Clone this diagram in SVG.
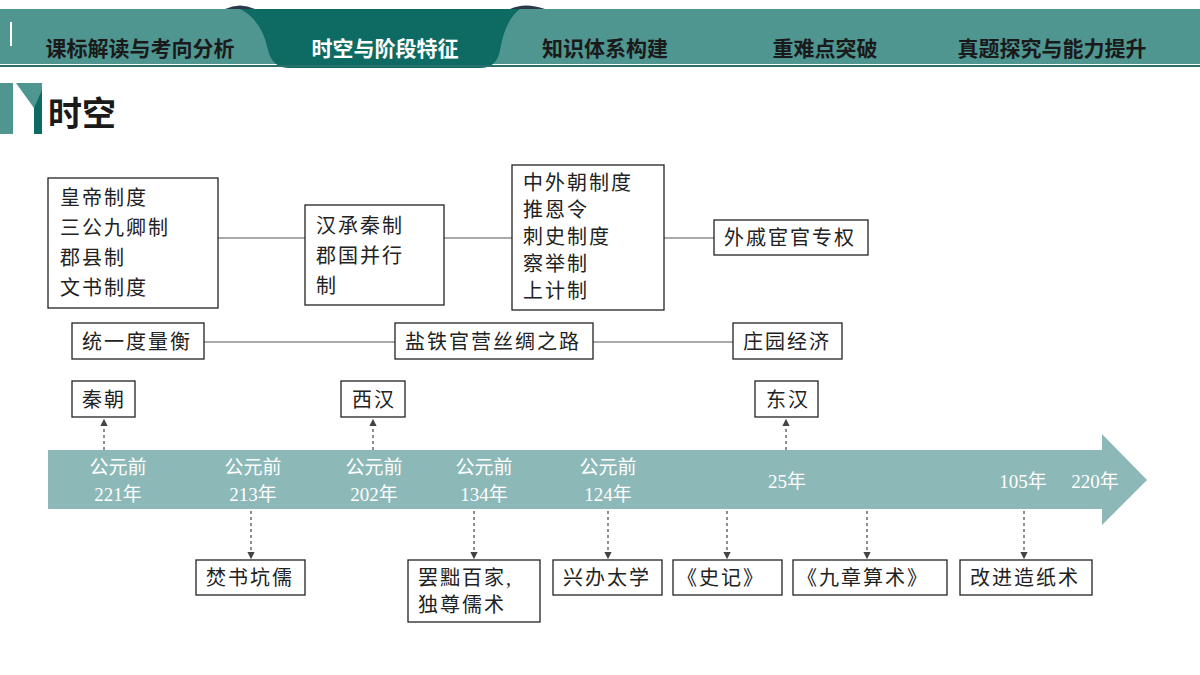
<svg xmlns="http://www.w3.org/2000/svg" width="1200" height="675" viewBox="0 0 1200 675">
<defs>
<style>
.b{fill:#fff;stroke:#222;stroke-width:1.3}
.t{font-family:"Liberation Serif","Noto Sans CJK SC",serif;font-size:20px;fill:#222;letter-spacing:2px}
.w{font-family:"Liberation Serif","Noto Sans CJK SC",serif;font-size:19px;fill:#fff;text-anchor:middle}
.h{font-family:"Noto Sans CJK SC",sans-serif;font-size:21px;font-weight:bold;fill:#1a1a1a;text-anchor:middle}
.c{stroke:#555;stroke-width:1}
.d{stroke:#444;stroke-width:1.2;stroke-dasharray:3 3;marker-end:url(#a)}
</style>
<marker id="a" markerWidth="6" markerHeight="6" refX="5" refY="3" orient="auto"><path d="M0,0L6,3L0,6z" fill="#444"/></marker>
</defs>
<rect width="1200" height="675" fill="#fff"/>
<g id="header">
<rect x="0" y="9" width="1200" height="55" fill="#4f9590"/>
<path d="M225,9 Q240,2 255,9 Z" fill="#2b3a4a"/>
<path d="M510,9 Q525,2 545,9 Z" fill="#2b3a4a"/>
<path d="M240,9 L520,9 Q505,20 500,50 Q497,68 480,68 L290,68 Q272,68 268,50 Q262,20 240,9 Z" fill="#0e6b63"/>
<rect x="0" y="65" width="1200" height="2" fill="#2a6f6a"/>
<rect x="10" y="22" width="2" height="24" fill="#fff"/>
<text class="h" x="140" y="56">课标解读与考向分析</text>
<text class="h" x="385" y="56" fill="#fff" style="fill:#fff">时空与阶段特征</text>
<text class="h" x="605" y="56">知识体系构建</text>
<text class="h" x="825" y="56">重难点突破</text>
<text class="h" x="1052" y="56">真题探究与能力提升</text>
</g>
<g id="title">
<rect x="0" y="83" width="13" height="51" fill="#4f9590"/>
<path d="M16,83 L42,83 L42,134 L34,134 L34,108 Z" fill="#4f9590"/>
<path d="M34,108 L42,90 L42,134 L34,134 Z" fill="#0e6b63"/>
<text x="48" y="126" font-family="'Noto Sans CJK SC',sans-serif" font-size="34" font-weight="bold" fill="#1a1a1a">时空</text>
</g>
<g id="timeline">
<path d="M48,450 L1102,450 L1102,434 L1147,480 L1102,525 L1102,509 L48,509 Z" fill="#8cb8b8"/>
<text class="w" x="118" y="474">公元前</text><text class="w" x="118" y="501">221年</text>
<text class="w" x="253" y="474">公元前</text><text class="w" x="253" y="501">213年</text>
<text class="w" x="374" y="474">公元前</text><text class="w" x="374" y="501">202年</text>
<text class="w" x="484" y="474">公元前</text><text class="w" x="484" y="501">134年</text>
<text class="w" x="608" y="474">公元前</text><text class="w" x="608" y="501">124年</text>
<text class="w" x="787" y="488">25年</text>
<text class="w" x="1023" y="488">105年</text>
<text class="w" x="1095" y="488">220年</text>
</g>
<g id="connectors">
<line class="c" x1="218" y1="238" x2="305" y2="238"/>
<line class="c" x1="444" y1="238" x2="512" y2="238"/>
<line class="c" x1="664" y1="238" x2="714" y2="238"/>
<line class="c" x1="204" y1="342" x2="395" y2="342"/>
<line class="c" x1="593" y1="342" x2="733" y2="342"/>
<line class="d" x1="104" y1="450" x2="104" y2="420"/>
<line class="d" x1="373" y1="450" x2="373" y2="420"/>
<line class="d" x1="786" y1="450" x2="786" y2="420"/>
<line class="d" x1="251" y1="511" x2="251" y2="558"/>
<line class="d" x1="474" y1="511" x2="474" y2="558"/>
<line class="d" x1="608" y1="511" x2="608" y2="558"/>
<line class="d" x1="727" y1="511" x2="727" y2="558"/>
<line class="d" x1="867" y1="511" x2="867" y2="558"/>
<line class="d" x1="1024" y1="511" x2="1024" y2="558"/>
</g>
<g id="n1"><rect class="b" x="48" y="178" width="170" height="130"/><text class="t" x="60" y="205">皇帝制度</text><text class="t" x="60" y="235">三公九卿制</text><text class="t" x="60" y="265">郡县制</text><text class="t" x="60" y="295">文书制度</text></g>
<g id="n2"><rect class="b" x="305" y="205" width="139" height="100"/><text class="t" x="316" y="233">汉承秦制</text><text class="t" x="316" y="263">郡国并行</text><text class="t" x="316" y="293">制</text></g>
<g id="n3"><rect class="b" x="512" y="165" width="152" height="145"/><text class="t" x="523" y="190">中外朝制度</text><text class="t" x="523" y="217">推恩令</text><text class="t" x="523" y="244">刺史制度</text><text class="t" x="523" y="271">察举制</text><text class="t" x="523" y="298">上计制</text></g>
<g id="n4"><rect class="b" x="714" y="220" width="154" height="35"/><text class="t" x="724" y="245">外戚宦官专权</text></g>
<g id="n5"><rect class="b" x="72" y="323" width="132" height="36"/><text class="t" x="82" y="349">统一度量衡</text></g>
<g id="n6"><rect class="b" x="395" y="323" width="198" height="36"/><text class="t" x="405" y="349">盐铁官营丝绸之路</text></g>
<g id="n7"><rect class="b" x="733" y="323" width="109" height="36"/><text class="t" x="743" y="349">庄园经济</text></g>
<g id="n8"><rect class="b" x="72" y="381" width="63" height="36"/><text class="t" x="82" y="407">秦朝</text></g>
<g id="n9"><rect class="b" x="341" y="381" width="64" height="36"/><text class="t" x="352" y="407">西汉</text></g>
<g id="n10"><rect class="b" x="755" y="381" width="63" height="36"/><text class="t" x="766" y="407">东汉</text></g>
<g id="n11"><rect class="b" x="196" y="560" width="109" height="35"/><text class="t" x="206" y="585">焚书坑儒</text></g>
<g id="n12"><rect class="b" x="408" y="560" width="132" height="62"/><text class="t" x="418" y="585">罢黜百家,</text><text class="t" x="418" y="612">独尊儒术</text></g>
<g id="n13"><rect class="b" x="553" y="560" width="109" height="35"/><text class="t" x="563" y="585">兴办太学</text></g>
<g id="n14"><rect class="b" x="673" y="560" width="109" height="35"/><text class="t" x="677" y="585">《史记》</text></g>
<g id="n15"><rect class="b" x="793" y="560" width="154" height="35"/><text class="t" x="797" y="585">《九章算术》</text></g>
<g id="n16"><rect class="b" x="960" y="560" width="132" height="35"/><text class="t" x="970" y="585">改进造纸术</text></g>
</svg>
